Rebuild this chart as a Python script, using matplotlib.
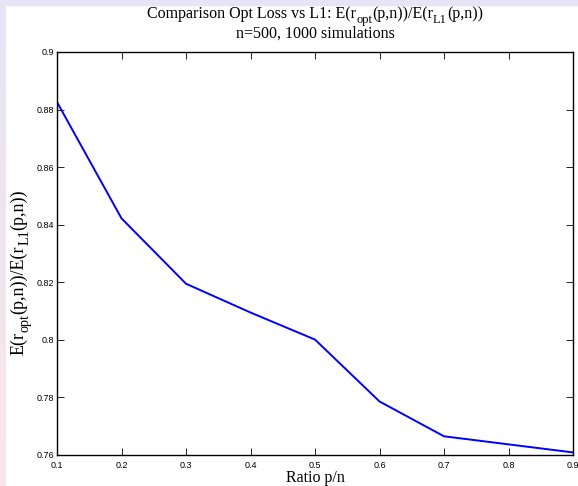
import matplotlib
matplotlib.use("Agg")
import matplotlib.pyplot as plt
from matplotlib.transforms import offset_copy
import numpy as np

# ratio p/n and the measured ratio E(r_opt)/E(r_L1)
ratio = [0.1, 0.2, 0.3, 0.4, 0.5, 0.6, 0.7, 0.8, 0.9]
loss_ratio = [0.8826, 0.8422, 0.8195, 0.8095, 0.8001, 0.7786, 0.7665, 0.7637, 0.7609]
xticks = [0.1, 0.2, 0.3, 0.4, 0.5, 0.6, 0.7, 0.8, 0.9]
yticks = [0.76, 0.78, 0.8, 0.82, 0.84, 0.86, 0.88, 0.9]

# (text, is_subscript) pieces, tex-style like the original figure
ratio_label = [("E(r", False), ("opt", True), ("(p,n))/E(r", False),
               ("L1", True), ("(p,n))", False)]
title_label = [("Comparison Opt Loss vs L1: E(r", False)] + ratio_label[1:]

W, H = 578, 486
SERIF = 'Liberation Serif'
fig = plt.figure(figsize=(W / 100, H / 100), dpi=100)


def rich_text(x_px, y_px, pieces, size, rotation=0):
    """Draw text with tex-like subscripts, centred on (x_px, y_px) baseline."""
    renderer = fig.canvas.get_renderer()
    widths = []
    for s, sub in pieces:
        t = fig.text(0, 0, s, fontsize=size * (0.78 if sub else 1), family=SERIF)
        widths.append(t.get_window_extent(renderer).width)
        t.remove()
    pos = -sum(widths) / 2
    for (s, sub), w in zip(pieces, widths):
        drop = size * 0.3 * 100 / 72 if sub else 0
        dx, dy = (pos, -drop) if rotation == 0 else (drop, pos)
        tr = offset_copy(fig.transFigure, fig=fig, x=dx, y=dy, units='dots')
        fig.text(x_px / W, 1 - y_px / H, s, transform=tr, family=SERIF,
                 fontsize=size * (0.78 if sub else 1), rotation=rotation,
                 rotation_mode='anchor', ha='left', va='baseline')
        pos += w


# slide background strips (lavender on top, fading to pink on the left)
bg = fig.add_axes([0, 0, 1, 1], zorder=-1)
bg.set_axis_off()
grad = np.linspace(0, 1, 256).reshape(-1, 1)
cmap = matplotlib.colors.LinearSegmentedColormap.from_list(
    "slide", ["#fbe6ea", "#e6e4f6"])
bg.imshow(grad, aspect='auto', cmap=cmap, extent=[0, 6 / W, 0, 1],
          origin='lower')
bg.add_patch(plt.Rectangle((0, 1 - 5 / H), 1, 5 / H, color="#e6e4f6",
                           transform=bg.transAxes))
bg.set_xlim(0, 1)
bg.set_ylim(0, 1)

ax = fig.add_axes([57 / W, 1 - 455 / H, (573 - 57) / W, (455 - 52) / H])
ax.plot(ratio, loss_ratio, color='#0000ff', linewidth=1.4)
ax.set_xlim(0.1, 0.9)
ax.set_ylim(0.76, 0.9)
ax.set_xticks(xticks)
ax.set_yticks(yticks)
ax.set_xticklabels([f'{v:g}' for v in xticks], family='Liberation Sans', fontsize=6.5)
ax.set_yticklabels([f'{v:g}' for v in yticks], family='Liberation Sans', fontsize=6.5)
ax.tick_params(axis='x', pad=4)
ax.tick_params(axis='y', pad=2)
ax.tick_params(direction='in', length=5, width=0.6, top=True, right=True)
for s in ax.spines.values():
    s.set_linewidth(1.0)

# title lines and axis labels, placed in figure pixels
rich_text(315, 18, title_label, 11.5)
fig.text(315 / W, 1 - 38 / H, 'n=500, 1000 simulations',
         ha='center', va='baseline', family=SERIF, fontsize=11.5)
fig.text(315 / W, 1 - 482 / H, 'Ratio p/n',
         ha='center', va='baseline', family=SERIF, fontsize=11.5)
rich_text(23, 272, ratio_label, 13, rotation=90)

fig.savefig('out.png', dpi=100)
